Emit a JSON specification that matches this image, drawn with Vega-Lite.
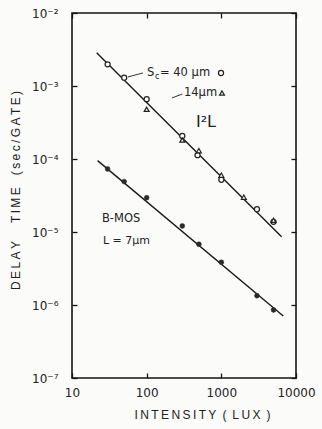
{
  "$schema": "https://vega.github.io/schema/vega-lite/v6.json",
  "width": 224,
  "height": 365,
  "autosize": "none",
  "padding": {"left": 72, "top": 13, "right": 26, "bottom": 51},
  "background": "#fbfbfa",
  "config": {
    "view": {"stroke": "#151515", "strokeWidth": 1.6},
    "font": "DejaVu Sans",
    "axis": {
      "grid": false,
      "domain": false,
      "tickColor": "#151515",
      "tickWidth": 1.3,
      "tickSize": -5,
      "labelColor": "#222222",
      "titleColor": "#222222",
      "labelFont": "DejaVu Sans",
      "titleFont": "Liberation Sans",
      "titleFontWeight": "normal"
    }
  },
  "datasets": {
    "fits": [
      {"series": "I2L", "intensity": 21.4, "delay": 0.00286},
      {"series": "I2L", "intensity": 6410, "delay": 0.0000086},
      {"series": "B-MOS", "intensity": 22, "delay": 0.000095},
      {"series": "B-MOS", "intensity": 6750, "delay": 0.000000706}
    ],
    "points": [
      {"series": "I2L 40um", "marker": "circle", "intensity": 30, "delay": 0.00198},
      {"series": "I2L 40um", "marker": "circle", "intensity": 50, "delay": 0.0013},
      {"series": "I2L 40um", "marker": "circle", "intensity": 100, "delay": 0.00066},
      {"series": "I2L 40um", "marker": "circle", "intensity": 300, "delay": 0.000207},
      {"series": "I2L 40um", "marker": "circle", "intensity": 480, "delay": 0.000113},
      {"series": "I2L 40um", "marker": "circle", "intensity": 1000, "delay": 0.000052},
      {"series": "I2L 40um", "marker": "circle", "intensity": 3000, "delay": 0.0000205},
      {"series": "I2L 40um", "marker": "circle", "intensity": 5000, "delay": 0.0000138},
      {"series": "I2L 14um", "marker": "triangle", "intensity": 100, "delay": 0.00048},
      {"series": "I2L 14um", "marker": "triangle", "intensity": 300, "delay": 0.000182},
      {"series": "I2L 14um", "marker": "triangle", "intensity": 500, "delay": 0.00013},
      {"series": "I2L 14um", "marker": "triangle", "intensity": 1000, "delay": 0.00006},
      {"series": "I2L 14um", "marker": "triangle", "intensity": 2000, "delay": 0.00003},
      {"series": "I2L 14um", "marker": "triangle", "intensity": 5000, "delay": 0.0000145},
      {"series": "B-MOS", "marker": "dot", "intensity": 30, "delay": 0.000073},
      {"series": "B-MOS", "marker": "dot", "intensity": 50, "delay": 0.000049},
      {"series": "B-MOS", "marker": "dot", "intensity": 100, "delay": 0.0000295},
      {"series": "B-MOS", "marker": "dot", "intensity": 300, "delay": 0.0000121},
      {"series": "B-MOS", "marker": "dot", "intensity": 500, "delay": 0.0000068},
      {"series": "B-MOS", "marker": "dot", "intensity": 1000, "delay": 0.00000385},
      {"series": "B-MOS", "marker": "dot", "intensity": 3000, "delay": 0.00000134},
      {"series": "B-MOS", "marker": "dot", "intensity": 5000, "delay": 0.000000855},
      {"series": "key", "marker": "circle", "intensity": 990, "delay": 0.001507},
      {"series": "key", "marker": "triangle", "intensity": 1021, "delay": 0.000802}
    ],
    "leaders": [
      {"intensity": 56.2, "delay": 0.00133, "intensity2": 89.1, "delay2": 0.00151},
      {"intensity": 218, "delay": 0.000685, "intensity2": 300, "delay2": 0.000776}
    ],
    "notes": [
      {"kind": "note", "text": "S", "intensity": 101, "delay": 0.001507},
      {"kind": "subscript", "text": "c", "intensity": 129.3, "delay": 0.00132},
      {"kind": "note", "text": "= 40 μm", "intensity": 150.9, "delay": 0.001507},
      {"kind": "note", "text": "14μm", "intensity": 316, "delay": 0.000802},
      {"kind": "heading", "text": "I²L", "intensity": 623, "delay": 0.000321},
      {"kind": "note", "text": "B-MOS", "intensity": 25.2, "delay": 0.00001507},
      {"kind": "small", "text": "L = 7μm", "intensity": 26, "delay": 0.00000753}
    ]
  },
  "resolve": {"axis": {"x": "independent", "y": "independent"}},
  "layer": [
    {
      "data": {"name": "fits"},
      "mark": {"type": "line", "stroke": "#1a1a1a", "strokeWidth": 1.4},
      "encoding": {
        "x": {
          "field": "intensity", "type": "quantitative",
          "scale": {"type": "log", "domain": [10, 10000], "nice": false},
          "axis": {
            "orient": "bottom", "values": [10, 100, 1000, 10000],
            "labelExpr": "format(datum.value, 'd')",
            "labelFlush": false, "labelOverlap": false,
            "labelFontSize": 12, "labelPadding": 14,
            "title": "I\u2009N\u2009T\u2009E\u2009N\u2009S\u2009I\u2009T\u2009Y\u2002(\u2002L\u2009U\u2009X\u2002)", "titleFontSize": 12,
            "titleX": 130, "titleY": 36, "titleBaseline": "middle", "titleAlign": "center"
          }
        },
        "y": {
          "field": "delay", "type": "quantitative",
          "scale": {"type": "log", "domain": [0.0000001, 0.01], "nice": false},
          "axis": {
            "orient": "left", "values": [0.0000001, 0.000001, 0.00001, 0.0001, 0.001, 0.01],
            "labelExpr": "'10⁻' + ['⁰','¹','²','³','⁴','⁵','⁶','⁷','⁸','⁹'][round(-log(datum.value)/LN10)]",
            "labelFlush": false, "labelOverlap": false,
            "labelFontSize": 12, "labelPadding": 19,
            "title": "D\u2009E\u2009L\u2009A\u2009Y\u2002\u2002\u2002T\u2009I\u2009M\u2009E\u2002\u2002(\u2009s\u2009e\u2009c\u2009/\u2009G\u2009A\u2009T\u2009E\u2009)", "titleFontSize": 12,
            "titleX": -57, "titleY": 177, "titleBaseline": "middle", "titleAlign": "center", "titleAngle": -90
          }
        },
        "detail": {"field": "series"}
      }
    },
    {
      "data": {"name": "leaders"},
      "mark": {"type": "rule", "stroke": "#333333", "strokeWidth": 1},
      "encoding": {
        "x": {"field": "intensity", "type": "quantitative", "axis": null},
        "y": {"field": "delay", "type": "quantitative", "axis": null},
        "x2": {"field": "intensity2"},
        "y2": {"field": "delay2"}
      }
    },
    {
      "data": {"name": "points"},
      "transform": [{"filter": "datum.marker === 'circle'"}],
      "mark": {"type": "point", "shape": "circle", "size": 26, "filled": true, "fill": "#fbfbfa", "stroke": "#222222", "strokeWidth": 1.2, "opacity": 1},
      "encoding": {
        "x": {
          "field": "intensity", "type": "quantitative",
          "axis": {"orient": "top", "values": [10, 100, 1000, 10000], "labels": false, "title": null}
        },
        "y": {
          "field": "delay", "type": "quantitative",
          "axis": {"orient": "right", "values": [0.0000001, 0.000001, 0.00001, 0.0001, 0.001, 0.01], "labels": false, "title": null}
        }
      }
    },
    {
      "data": {"name": "points"},
      "transform": [{"filter": "datum.marker === 'triangle'"}],
      "mark": {"type": "point", "shape": "triangle-up", "size": 24, "filled": true, "fill": "#fbfbfa", "stroke": "#222222", "strokeWidth": 1.2, "opacity": 1},
      "encoding": {
        "x": {"field": "intensity", "type": "quantitative", "axis": null},
        "y": {"field": "delay", "type": "quantitative", "axis": null}
      }
    },
    {
      "data": {"name": "points"},
      "transform": [{"filter": "datum.marker === 'dot'"}],
      "mark": {"type": "point", "shape": "circle", "size": 24, "filled": true, "fill": "#2a2a2a", "stroke": "#2a2a2a", "strokeWidth": 0.5, "opacity": 1},
      "encoding": {
        "x": {"field": "intensity", "type": "quantitative", "axis": null},
        "y": {"field": "delay", "type": "quantitative", "axis": null}
      }
    },
    {
      "data": {"name": "notes"},
      "transform": [{"filter": "datum.kind === 'note'"}],
      "mark": {"type": "text", "align": "left", "baseline": "middle", "fontSize": 11.5, "fill": "#222222"},
      "encoding": {
        "x": {"field": "intensity", "type": "quantitative", "axis": null},
        "y": {"field": "delay", "type": "quantitative", "axis": null},
        "text": {"field": "text"}
      }
    },
    {
      "data": {"name": "notes"},
      "transform": [{"filter": "datum.kind === 'small'"}],
      "mark": {"type": "text", "align": "left", "baseline": "middle", "fontSize": 11, "fill": "#222222"},
      "encoding": {
        "x": {"field": "intensity", "type": "quantitative", "axis": null},
        "y": {"field": "delay", "type": "quantitative", "axis": null},
        "text": {"field": "text"}
      }
    },
    {
      "data": {"name": "notes"},
      "transform": [{"filter": "datum.kind === 'subscript'"}],
      "mark": {"type": "text", "align": "left", "baseline": "middle", "fontSize": 8, "fill": "#222222"},
      "encoding": {
        "x": {"field": "intensity", "type": "quantitative", "axis": null},
        "y": {"field": "delay", "type": "quantitative", "axis": null},
        "text": {"field": "text"}
      }
    },
    {
      "data": {"name": "notes"},
      "transform": [{"filter": "datum.kind === 'heading'"}],
      "mark": {"type": "text", "align": "center", "baseline": "middle", "fontSize": 16, "fill": "#222222"},
      "encoding": {
        "x": {"field": "intensity", "type": "quantitative", "axis": null},
        "y": {"field": "delay", "type": "quantitative", "axis": null},
        "text": {"field": "text"}
      }
    }
  ]
}
